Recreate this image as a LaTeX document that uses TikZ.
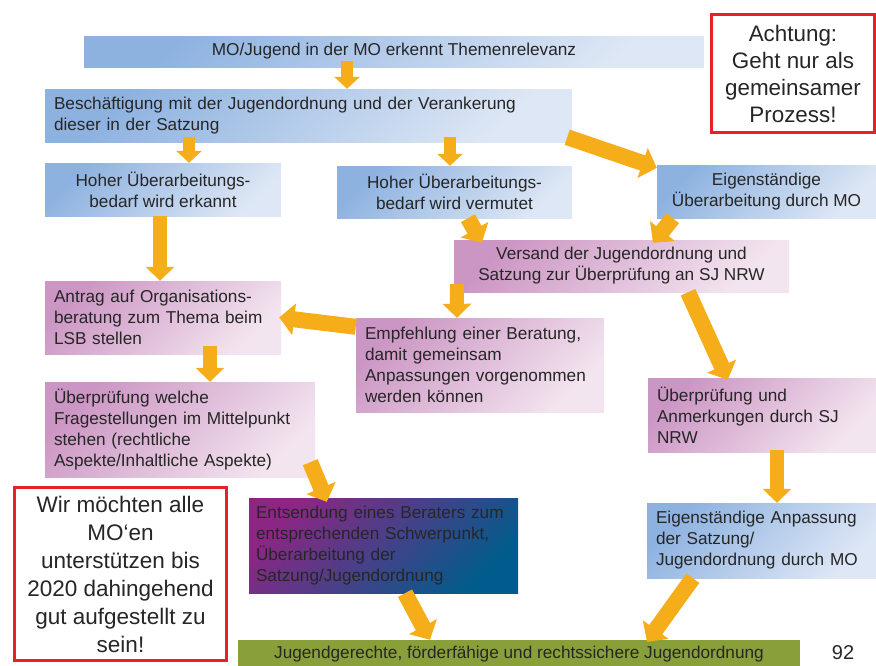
\documentclass[tikz,border=0pt]{standalone}
\usepackage{fontspec}
\setmainfont{Liberation Sans}
\usetikzlibrary{arrows.meta}
\definecolor{blueA}{RGB}{141,178,224}
\definecolor{blueB}{RGB}{222,231,245}
\definecolor{pinkA}{RGB}{204,150,196}
\definecolor{pinkB}{RGB}{243,229,239}
\definecolor{purA}{RGB}{140,38,132}
\definecolor{purB}{RGB}{0,92,140}
\definecolor{zielgreen}{RGB}{137,160,58}
\definecolor{flowyellow}{RGB}{245,174,26}
\definecolor{notered}{RGB}{232,32,40}
\definecolor{textgray}{RGB}{38,38,38}
\tikzstyle{box} = [rectangle, inner sep=0pt, text=textgray, font=\fontsize{17.2}{21}\selectfont]
\tikzstyle{bluebox} = [box, top color=blueA, bottom color=blueB, shading angle=45]
\tikzstyle{pinkbox} = [box, top color=pinkA, bottom color=pinkB, shading angle=45]
\tikzstyle{leftbox} = [align=left, inner xsep=9pt]
\tikzstyle{note} = [rectangle, draw=notered, line width=3pt, fill=white, inner sep=0pt, align=center, text=textgray]
\tikzstyle{arrow} = [draw=flowyellow, line width=12pt, -{Triangle[length=12pt, width=25pt]}]
\tikzstyle{midarrow} = [draw=flowyellow, line width=14pt, -{Triangle[length=14pt, width=28pt]}]
\tikzstyle{bigarrow} = [draw=flowyellow, line width=16pt, -{Triangle[length=15pt, width=31pt]}]

\begin{document}
\begin{tikzpicture}[x=1pt, y=-1pt]
        \useasboundingbox (0,0) rectangle (876,665);
        % Boxes
        \node[bluebox, align=center, minimum width=620pt, minimum height=31pt] (top) at (394,51.5) {MO/Jugend in der MO erkennt Themenrelevanz};
        \node[bluebox, leftbox, text width=509pt, minimum height=53pt] (besch) at (308.5,115.5) {Beschäftigung mit der Jugendordnung und der Verankerung\\ dieser in der Satzung};
        \node[bluebox, align=center, minimum width=236pt, minimum height=53pt] (hoch1) at (163,189.5) {Hoher Überarbeitungs-\\ bedarf wird erkannt};
        \node[bluebox, align=center, minimum width=235pt, minimum height=52pt] (hoch2) at (454.5,192) {Hoher Überarbeitungs-\\ bedarf wird vermutet};
        \node[bluebox, align=center, minimum width=219pt, minimum height=53pt] (eigen1) at (766.5,191.5) {Eigenständige\\ Überarbeitung durch MO};
        \node[pinkbox, align=center, minimum width=335pt, minimum height=52pt] (versand) at (621.5,266) {Versand der Jugendordnung und\\ Satzung zur Überprüfung an SJ NRW};
        \node[pinkbox, leftbox, text width=218pt, minimum height=73pt] (antrag) at (163,317.5) {Antrag auf Organisations-\\ beratung zum Thema beim\\ LSB stellen};
        \node[pinkbox, leftbox, text width=230pt, minimum height=94pt] (empf) at (480,365) {Empfehlung einer Beratung,\\ damit gemeinsam\\ Anpassungen vorgenommen\\ werden können};
        \node[pinkbox, leftbox, text width=252pt, minimum height=95pt] (pruef1) at (180,429.5) {Überprüfung welche\\ Fragestellungen im Mittelpunkt\\ stehen (rechtliche\\ Aspekte/Inhaltliche Aspekte)};
        \node[pinkbox, leftbox, text width=210pt, minimum height=74pt] (pruef2) at (762,415) {Überprüfung und\\ Anmerkungen durch SJ\\ NRW};
        \node[box, leftbox, top color=purA, bottom color=purB, shading angle=45, inner xsep=7pt, text width=255pt, minimum height=95pt] (entsend) at (383.5,545.5) {Entsendung eines Beraters zum\\ entsprechenden Schwerpunkt,\\ Überarbeitung der\\ Satzung/Jugendordnung};
        \node[bluebox, leftbox, text width=211pt, minimum height=75pt] (eigen2) at (761.5,540.5) {Eigenständige Anpassung\\ der Satzung/\\ Jugendordnung durch MO};
        \node[box, fill=zielgreen, align=center, minimum width=562pt, minimum height=28pt] (ziel) at (519,654) {Jugendgerechte, förderfähige und rechtssichere Jugendordnung};

        % Notes
        \node[note, font=\fontsize{22.4}{27}\selectfont, minimum width=163pt, minimum height=118pt] (achtung) at (793,73.5) {Achtung:\\ Geht nur als\\ gemeinsamer\\ Prozess!};
        \node[note, font=\fontsize{22.5}{28}\selectfont, minimum width=212pt, minimum height=173pt] (ziel2020) at (120.5,574) {Wir möchten alle\\ MO‘en\\ unterstützen bis\\ 2020 dahingehend\\ gut aufgestellt zu\\ sein!};
        \node[text=textgray, font=\fontsize{20}{24}\selectfont] (seite) at (843,653) {92};

        % Arrows
        \draw[arrow] ([xshift=-47pt,yshift=6pt]top.south) -- ([xshift=38.5pt]besch.north);
        \draw[arrow] ([xshift=-119.5pt,yshift=5pt]besch.south) -- ([xshift=26pt]hoch1.north);
        \draw[arrow] ([xshift=141.5pt,yshift=5pt]besch.south) -- ([xshift=-4.5pt]hoch2.north);
        \draw[bigarrow] ([xshift=-5pt,yshift=5pt]besch.south east) -- ([yshift=-3pt]eigen1.north west);
        \draw[midarrow] ([xshift=-3pt]hoch1.south) -- ([xshift=-3pt]antrag.north);
        \draw[bigarrow] ([xshift=13.5pt]hoch2.south) -- ([xshift=28pt,yshift=-3pt]versand.north west);
        \draw[bigarrow] ([xshift=16pt]eigen1.south west) -- ([xshift=31.5pt,yshift=-3pt]versand.north);
        \draw[midarrow] ([xshift=3pt,yshift=8pt]versand.south west) -- ([xshift=-23pt]empf.north);
        \draw[bigarrow] ([xshift=66.5pt]versand.south) -- ([xshift=80pt,yshift=-2pt]pruef2.north west);
        \draw[bigarrow] ([yshift=-9pt]empf.north west) -- ([xshift=-2pt]antrag.east);
        \draw[midarrow] ([xshift=47pt,yshift=8pt]antrag.south) -- ([xshift=30pt]pruef1.north);
        \draw[bigarrow] ([xshift=-5pt,yshift=15pt]pruef1.south east) -- ([xshift=78pt,yshift=-4pt]entsend.north west);
        \draw[midarrow] ([xshift=15pt,yshift=2pt]pruef2.south) -- ([xshift=15.5pt]eigen2.north);
        \draw[bigarrow] ([xshift=21.5pt]entsend.south) -- ([xshift=-89pt]ziel.north);
        \draw[bigarrow] ([xshift=46pt]eigen2.south west) -- ([xshift=128pt,yshift=-2pt]ziel.north);
\end{tikzpicture}
\end{document}
